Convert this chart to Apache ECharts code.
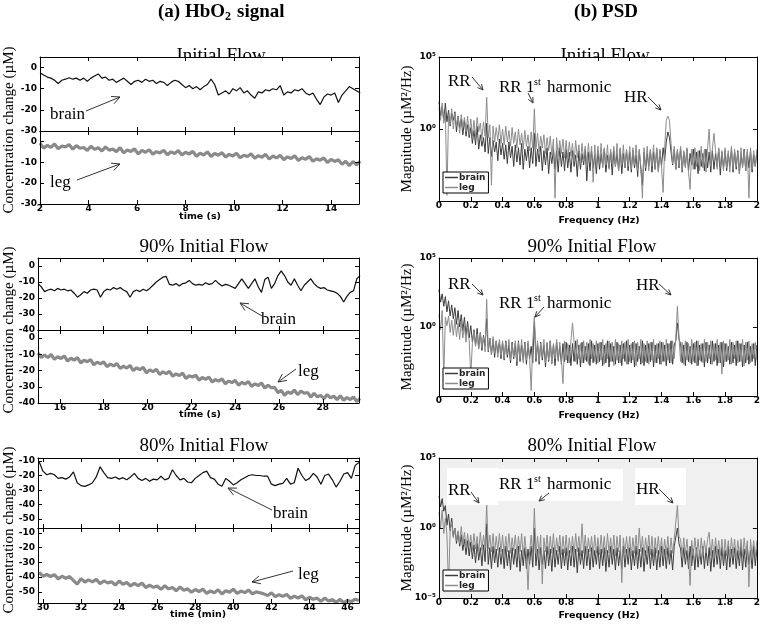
<!DOCTYPE html>
<html><head><meta charset="utf-8">
<script src="https://cdn.jsdelivr.net/npm/echarts@6/dist/echarts.min.js"></script>
<style>html,body{margin:0;padding:0;background:#fff}#c{width:763px;height:624px}</style>
</head><body><div id="c"></div>
<script>
// ---------------- DATA ----------------
// (a) HbO2 signal, time series (value = concentration change, µM)
const brain1T0 = 2.0, brain1Dt = 0.15;
const brain1 = [-2.5,-3.5,-4.5,-5,-6,-7.5,-6,-5.5,-4.8,-5.5,
 -5,-6,-5,-6.5,-5,-4,-3,-5,-4.5,-6,
 -5.5,-7,-6,-5,-6.5,-8,-6.5,-6,-7,-5.5,
 -6.5,-6,-7.5,-6.5,-7,-8.5,-7,-6,-6.5,-8,
 -9.5,-8.5,-10,-9,-10.5,-9,-8,-5.5,-8,-13,
 -12,-11,-12.5,-10,-11,-9.5,-12,-11,-13,-14.5,
 -11.5,-12,-10.5,-11,-10,-10.5,-8.5,-13,-11.5,-12,
 -10.5,-11,-10,-12,-13,-12,-15,-17.5,-14,-12.5,
 -13,-12,-16.5,-13,-11,-9,-10,-11,-12];
const leg1 = [-0.8,-3.2,-1.9,-2.9,-1.2,-3.5,-2.2,-2.6,-1.5,-3.7,
 -2.0,-3.3,-2.9,-4.3,-2.3,-3.8,-3.0,-4.6,-2.6,-4.2,
 -3.6,-4.9,-3.0,-5.4,-4.1,-4.8,-3.6,-6.0,-4.3,-5.2,
 -4.0,-6.1,-4.9,-5.5,-4.2,-6.4,-5.0,-5.8,-4.4,-6.5,
 -5.2,-6.0,-4.8,-7.1,-5.6,-6.5,-5.0,-7.2,-5.8,-6.6,
 -5.4,-7.5,-6.2,-7.0,-5.7,-7.8,-6.6,-7.2,-5.9,-8.1,
 -6.8,-7.6,-6.2,-8.5,-7.0,-7.9,-6.6,-8.8,-7.4,-8.2,
 -6.9,-9.1,-7.8,-8.6,-7.2,-9.5,-8.3,-9.0,-7.9,-10.1,
 -8.6,-9.6,-8.8,-11.0,-9.5,-11.6,-9.6,-11.2,-9.4];

const brain2T0 = 15.0, brain2Dt = 0.15;
const brain2 = [-11,-13,-16,-15,-14.5,-15.5,-14,-15,-14.5,-15.5,
 -15,-17,-19.5,-18,-16,-17,-15,-14.5,-15,-19.5,
 -16,-14.5,-15,-13.5,-14.5,-13.5,-15,-16,-19.5,-16,
 -15,-16,-14.5,-15.5,-14,-12,-10,-8.5,-7,-6.5,
 -11.5,-12,-11,-12.5,-11,-10.5,-9,-11,-12,-11.5,
 -12,-10.5,-11.5,-11,-9,-11,-12.5,-11.5,-12,-13,
 -14,-11,-8,-11,-14,-11,-8,-13,-16.5,-8.5,
 -7,-14,-11,-6,-3,-6,-10,-12,-8,-12,
 -15.5,-12,-10,-8,-11,-13,-14,-13.5,-15,-15.5,
 -16,-17,-19,-22.5,-19,-16.5,-15.5,-8,-6];
const leg2 = [-9.2,-11.9,-10.4,-12.0,-10.1,-13.1,-11.5,-12.6,-11.0,-14.2,
 -12.3,-13.6,-12.0,-15.3,-13.6,-14.6,-13.2,-16.5,-14.8,-15.9,
 -14.6,-17.6,-16.0,-17.1,-15.7,-18.7,-17.3,-18.5,-16.8,-20.0,
 -18.3,-19.5,-18.0,-21.4,-19.6,-20.7,-19.2,-22.4,-20.8,-21.9,
 -20.5,-23.5,-22.0,-23.1,-21.6,-24.9,-23.2,-24.0,-22.9,-25.9,
 -24.3,-25.4,-24.0,-27.1,-25.6,-26.5,-25.1,-28.2,-26.5,-27.4,
 -26.1,-29.0,-27.3,-28.3,-26.8,-29.8,-28.2,-29.2,-27.6,-30.8,
 -29.1,-30.6,-30.4,-33.6,-32.2,-35.3,-33.2,-34.1,-32.0,-34.8,
 -32.6,-34.0,-33.5,-36.4,-34.0,-36.2,-35.3,-37.3,-34.8,-36.8,
 -35.8,-37.9,-35.5,-38.3,-36.6,-37.9,-36.3,-39.1,-37.2];

const brain3T0 = 29.8, brain3Dt = 0.2;
const brain3 = [-10.5,-17,-19.5,-18.5,-19.5,-22,-21.5,-22.5,-21,-17.5,
 -25,-27,-27.5,-26.5,-25,-21,-14,-18,-21.5,-22,
 -21,-22.5,-21.5,-23,-21,-18.5,-22,-23.5,-22,-24,
 -22.5,-23,-20.5,-23,-22,-16,-20,-23,-22,-24.5,
 -25,-22,-20,-18,-17,-21.5,-22.5,-26,-27.5,-22,
 -24,-26.5,-25,-23,-21.5,-20,-19.5,-20,-20,-20.5,
 -20.5,-26,-27,-26,-25.5,-22,-26,-25,-15,-20,
 -23.5,-22,-18.5,-21,-26,-20,-19,-23,-28,-24,
 -19,-18,-22,-13,-11];
const leg3 = [-36.8,-39.4,-38.2,-39.6,-38.3,-41.2,-39.4,-40.9,-39.6,-42.3,
 -44.8,-41.0,-43.3,-41.9,-43.2,-41.5,-44.4,-42.6,-43.9,-43.1,
 -45.4,-42.7,-44.8,-43.7,-46.0,-44.3,-45.8,-44.0,-47.1,-45.4,
 -46.9,-46.1,-48.3,-45.9,-48.0,-47.0,-49.3,-46.7,-48.9,-48.0,
 -50.3,-48.4,-49.8,-48.2,-51.1,-49.4,-50.6,-48.6,-51.5,-49.3,
 -50.2,-48.2,-51.1,-49.5,-50.5,-48.8,-51.4,-50.0,-50.6,-51.4,
 -52.5,-50.7,-53.3,-51.9,-53.1,-51.7,-54.5,-52.9,-54.2,-52.7,
 -55.5,-53.7,-55.1,-54.3,-56.5,-54.2,-56.2,-55.3,-57.2,-55.1,
 -57.4,-55.9,-56.6,-55.0,-55.9];

// tick labels
const xTicks1 = [2,4,6,8,10,12,14];
const xTicks2 = [16,18,20,22,24,26,28];
const xTicks3 = [30,32,34,36,38,40,42,44,46];
const xLabels3 = ['30','32','24','26','28','40','42','44','46'];
const yTicks1 = [-30,-20,-10,0];
const yTicks2 = [-40,-30,-20,-10,0];
const yTicks3 = [-50,-40,-30,-20,-10];
const fTicks = [0,0.2,0.4,0.6,0.8,1,1.2,1.4,1.6,1.8,2];
const psdExpTicks = [-5,0,5];
const psdExpLabels = {'5':'10\u2075','0':'10\u2070','-5':'10\u207B\u2075'};

// (b) PSD, log10 of magnitude (µM²/Hz), frequency bins every 0.01 Hz from 0 to 2 Hz
const FSTEP = 0.01;
const psdBrain1 = [1.9,0.9,1.6,0.6,1.8,0.5,1.3,0.2,1.1,0.6, 1.2,-0.2,0.9,0.1,0.7,-0.4,0.6,-0.5,0.3,-0.6,
 0.1,-1.0,-0.1,-1.1,0.2,-1.4,-0.4,-1.2,-0.6,-1.6, 0.4,-1.7,-0.6,-1.9,-0.8,-1.6,-0.9,-2.2,-0.7,-1.8,
 -1.0,-2.1,-1.1,-2.4,-0.9,-2.0,-1.2,-2.6,-1.1,-2.3, -1.3,-2.5,-1.0,-2.8,-1.4,-2.2,-1.2,-2.7,-1.3,-2.4,
 -0.3,-2.6,-1.4,-2.3,-1.2,-2.9,-1.5,-2.5,-1.3,-3.1, -1.6,-2.4,-1.4,-2.8,-1.5,-3.0,-1.3,-2.6,-1.6,-2.9,
 -1.4,-2.7,-1.6,-3.0,-1.5,-2.6,-1.8,-3.3,-1.5,-2.8, -1.7,-2.5,-1.4,-3.6,-1.6,-2.9,-1.5,-2.7,-1.8,-3.1,
 -1.5,-2.8,-1.7,-2.6,-1.4,-3.0,-1.8,-2.7,-1.6,-3.2, -1.5,-2.6,-1.7,-2.9,-1.4,-3.1,-1.7,-2.7,-1.5,-2.9,
 -1.6,-3.0,-1.5,-2.7,-1.8,-3.3,-1.5,-2.8,-3.9,-1.6, -2.9,-1.7,-2.6,-1.5,-3.0,-1.6,-2.8,-1.4,-2.9,-1.5,
 -2.6,-1.3,-2.2,-0.9,-0.2,-0.6,-1.6,-2.5,-1.4,-2.8, -1.5,-2.7,-1.3,-3.0,-1.6,-2.6,-1.4,-2.9,-1.7,-2.5,
 -1.4,-2.8,-1.6,-3.1,-1.5,-2.6,-1.7,-2.9,-1.4,-2.7, -1.6,-3.0,-1.5,-2.8,-1.7,-2.6,-1.4,-3.2,-1.6,-2.7,
 -1.5,-2.9,-1.7,-2.6,-1.4,-3.0,-1.6,-2.8,-1.5,-3.1, -1.7,-2.6,-1.4,-2.9,-1.6,-2.7,-1.5,-3.0,-1.8,-2.6,
 -1.6];
const psdLeg1 = [1.5,0.6,1.8,0.4,1.2,-4.6,1.0,0.3,1.4,0.0, 1.1,0.2,0.9,-0.3,1.0,0.1,0.8,-0.2,0.9,-0.4,
 0.7,-0.5,0.6,-0.6,0.8,-0.2,0.4,-0.7,0.5,-0.5, 2.2,-0.6,0.3,-3.9,0.2,-0.9,0.1,-0.8,0.3,-1.0,
 0.0,-1.1,0.2,-0.9,-0.1,-1.2,0.1,-1.0,-0.2,-1.3, 0.0,-1.1,-0.3,-1.4,-0.1,-1.2,-0.4,-1.5,-0.2,-1.3,
 1.4,-1.4,-0.3,-1.6,-0.5,-1.3,-0.4,-1.7,-0.6,-1.5, -0.5,-1.8,-0.7,-4.8,-0.6,-1.9,-0.8,-1.7,-0.7,-2.0,
 -0.8,-2.1,-0.9,-1.9,-1.0,-2.3,-0.8,-2.0,-1.1,-2.4, -1.0,-2.2,-1.2,-2.5,-1.0,-2.3,-1.2,-3.7,-1.1,-2.6,
 -1.2,-2.4,-1.0,-2.7,-1.3,-2.5,-1.1,-2.8,-1.4,-2.4, -1.2,-2.6,-1.0,-2.9,-1.3,-2.5,-1.1,-2.7,-1.4,-2.6,
 -1.2,-2.8,-1.3,-2.5,-1.1,-2.9,-1.4,-2.6,-4.8,-1.3, -2.7,-1.2,-2.9,-1.4,-2.6,-1.1,-2.8,-1.3,-3.0,-1.4,
 -2.6,-4.4,-1.3,0.6,0.9,0.6,-1.0,-2.4,-1.2,-2.8, -1.4,-2.6,-1.2,-2.9,-1.5,-2.7,-1.3,-3.0,-4.2,-1.4,
 -2.8,-1.3,-2.6,-1.5,-2.9,-1.2,-2.7,-1.4,-3.0,-1.3, 0.0,-2.6,-1.4,-0.3,-1.5,-2.8,-1.3,-2.6,-1.5,-2.9,
 -1.3,-2.7,-1.5,-3.0,-1.2,-2.8,-1.4,-2.6,-1.6,-3.1, -1.3,-2.7,-1.5,-2.9,-1.4,-4.8,-1.3,-2.8,-1.5,-2.6,
 -1.4];
const psdBrain2 = [2.7,1.8,2.4,1.5,2.2,1.1,1.9,0.8,1.6,0.6, 1.4,0.2,1.2,0.0,0.9,-0.3,0.7,-0.6,0.4,-0.8,
 0.1,-1.1,-0.2,-1.3,-0.1,-1.5,-0.4,-1.7,-0.6,-1.4, 0.6,-1.8,-0.8,-2.0,-0.9,-2.2,-1.0,-1.9,-1.1,-2.3,
 -1.1,-2.4,-1.0,-2.2,-1.3,-2.6,-1.1,-2.3,-1.2,-2.8, -1.0,-2.5,-1.3,-2.4,-1.1,-2.7,-1.2,-2.3,-1.4,-2.6,
 0.4,-2.5,-1.2,-2.7,-1.1,-2.4,-1.3,-2.9,-1.2,-2.5, -1.0,-2.6,-1.3,-2.8,-1.1,-2.4,-1.4,-2.7,-1.2,-2.5,
 -1.1,-2.6,-1.3,-2.8,-1.2,-2.5,-1.0,-2.7,-1.3,-2.9, -1.1,-2.6,-1.4,-2.5,-1.2,-2.8,-1.0,-2.6,-1.3,-2.7,
 -1.2,-2.5,-1.1,-2.8,-1.3,-2.6,-1.0,-2.9,-1.2,-2.5, -1.4,-2.7,-1.1,-2.6,-1.3,-2.8,-1.2,-2.5,-1.0,-2.7,
 -1.3,-2.6,-1.1,-2.9,-1.2,-2.5,-1.4,-2.7,-1.0,-2.8, -1.3,-2.6,-1.2,-2.5,-1.1,-2.9,-1.3,-2.6,-1.2,-2.7,
 -1.1,-2.5,-1.3,-2.8,-1.2,-2.6,-1.0,-2.7,-1.3,-1.0, 0.3,-0.9,-1.2,-2.6,-1.3,-2.8,-1.1,-2.5,-1.4,-2.7,
 -1.2,-2.6,-1.0,-2.8,-1.3,-2.5,-1.2,-2.9,-1.1,-2.6, -1.3,-2.7,-1.0,-2.5,-1.2,-2.8,-1.3,-2.6,-1.1,-2.9,
 -1.2,-2.5,-1.4,-2.7,-1.1,-2.6,-1.3,-2.8,-1.0,-2.5, -1.2,-2.9,-1.3,-2.6,-1.1,-2.7,-1.4,-2.5,-1.2,-2.8,
 -1.3];
const psdLeg2 = [0.9,-0.2,1.2,-3.7,0.7,0.1,0.8,-0.4,0.5,-0.6, 0.6,-0.7,0.3,-0.9,0.4,-0.8,0.1,-1.1,0.0,-1.0,
 -3.5,-1.2,-0.3,-1.4,-0.5,-1.6,-0.4,-1.5,-0.7,-1.8, 2.0,-1.7,-0.8,-2.0,-0.7,-1.9,-1.0,-2.2,-0.9,-2.1,
 -1.0,-2.3,-1.1,-2.0,-0.9,-2.4,-1.2,-2.2,-1.0,-2.5, -1.1,-2.3,-0.9,-2.6,-1.2,-2.4,-1.0,-2.2,-4.6,-1.1,
 0.8,-2.3,-1.0,-2.5,-1.2,-2.2,-0.9,-2.6,-1.1,-2.4, -1.0,-2.7,-1.2,-2.3,-0.9,-2.5,-1.1,-2.4,-4.1,-1.0,
 -2.4,-1.2,-2.6,-1.0,0.3,-1.1,-2.5,-0.9,-2.3,-1.2, -2.6,-1.0,-2.4,-1.1,-2.7,-0.9,-2.3,-1.2,-2.5,-1.0,
 -2.6,-1.1,-2.4,-0.9,-2.7,-1.2,-2.3,-1.0,-2.5,-1.1, -2.8,-0.9,-2.4,-1.2,-2.6,-1.0,-2.3,-1.1,-2.7,-0.9,
 -2.5,-1.2,-2.4,-1.0,-2.8,-1.1,-2.3,-0.9,-2.6,-1.2, -2.5,-1.0,-2.7,-1.1,-2.4,-0.9,-2.6,-1.2,-2.3,-1.0,
 -2.7,-1.1,-2.5,-0.9,-2.4,-1.2,-2.6,-1.0,-2.3,-0.8, 1.5,-0.7,-2.5,-1.1,-2.7,-1.0,-2.4,-1.2,-2.6,-0.9,
 -2.5,-1.1,-2.8,-1.0,-2.4,-1.2,-2.6,-0.9,-2.5,-1.1, -2.3,-1.0,-2.7,-1.2,-2.4,-0.9,-2.6,-1.1,-3.4,-1.0,
 -2.5,-1.2,-2.4,-0.9,-2.7,-1.1,-2.3,-1.0,-2.6,-1.2, -2.5,-0.9,-2.8,-1.1,-2.4,-1.0,-2.6,-1.2,-2.3,-1.1,
 -2.4];
const psdBrain3 = [2.3,1.5,2.1,1.2,1.6,0.2,1.0,-0.2,0.7,-0.6, 0.0,-1.1,-0.3,-1.3,-0.5,-1.6,-0.8,-1.9,-0.9,-2.0,
 -1.0,-2.2,-1.2,-2.5,-1.1,-2.3,-1.4,-2.7,-1.2,-2.4, 0.3,-2.6,-1.4,-2.9,-1.3,-2.5,-1.5,-2.8,-1.4,-2.6,
 -1.5,-2.9,-1.3,-2.7,-1.6,-3.0,-1.4,-2.6,-1.5,-2.8, -1.3,-3.1,-1.6,-2.7,-1.4,-2.9,-1.5,-2.6,-1.3,-2.8,
 0.0,-2.7,-1.5,-3.0,-1.4,-2.6,-1.6,-2.9,-1.3,-2.7, -1.5,-3.1,-1.4,-2.8,-1.6,-2.6,-1.3,-2.9,-1.5,-2.7,
 -1.4,-3.0,-1.6,-2.7,-1.3,-2.8,-1.5,-3.2,-1.4,-2.6, -1.6,-2.9,-1.3,-2.7,-1.5,-3.0,-1.4,-2.8,-1.6,-2.6,
 -1.3,-2.9,-1.5,-2.7,-1.4,-3.1,-1.6,-2.8,-1.3,-2.6, -1.5,-3.0,-1.4,-2.7,-1.6,-2.9,-1.3,-2.8,-1.5,-2.6,
 -1.4,-3.0,-1.6,-2.7,-1.3,-2.9,-1.5,-2.8,-1.4,-3.1, -1.6,-2.6,-1.3,-2.9,-1.5,-2.7,-1.4,-3.0,-1.6,-2.8,
 -1.3,-2.7,-1.5,-2.9,-1.4,-2.6,-1.6,-3.0,-1.3,-1.2, 0.0,-1.1,-1.5,-2.8,-1.4,-2.6,-1.6,-2.9,-1.3,-2.7,
 -1.5,-3.0,-1.4,-2.8,-1.6,-2.6,-1.3,-2.9,-1.5,-2.7, -1.4,-3.1,-1.6,-2.8,-1.3,-2.6,-1.5,-2.9,-1.4,-2.7,
 -1.6,-3.0,-1.3,-2.8,-1.5,-2.6,-1.4,-2.9,-1.6,-2.7, -1.3,-3.0,-1.5,-2.8,-1.4,-2.6,-1.6,-2.9,-1.3,-2.7,
 -1.5];
const psdLeg3 = [1.1,0.0,1.3,-0.4,0.7,-0.5,-4.3,-0.2,0.4,-0.7, 0.0,-0.9,-0.2,-1.1,0.1,-1.2,-0.3,-1.4,-0.4,-1.3,
 -0.5,-1.6,-0.4,-1.5,-0.6,-1.7,-0.3,-1.6,-0.5,-1.4, 1.7,-1.5,-0.5,-1.7,-0.4,-1.8,-0.6,-1.6,-0.4,-1.7,
 -0.5,-1.9,-0.6,-1.7,-0.4,-1.8,-0.7,-1.6,-0.5,-1.9, -0.6,-1.7,-0.4,-2.0,-0.6,-1.8,-4.4,-1.7,-0.5,-1.9,
 1.4,-1.8,-0.6,-1.9,-0.5,-4.0,-0.7,-1.7,-0.5,-1.9, -0.6,-1.8,-0.4,-2.0,-0.7,-1.7,-0.5,-1.9,-0.6,-1.8,
 -0.5,-2.0,-0.7,-1.8,-0.6,-1.9,-0.4,-1.7,-0.6,-2.0, 0.3,-1.8,-0.5,-1.9,-0.7,-1.7,-0.6,-2.0,-0.5,-1.8,
 -0.7,-1.9,-0.5,-1.8,-0.6,-2.1,-0.4,-1.8,-0.7,-1.9, -0.5,-2.0,-0.6,-1.7,-0.5,-3.9,-0.7,-1.8,-0.6,-1.9,
 -0.6,-2.0,-0.7,-1.8,-0.5,-1.9,0.0,-1.7,-0.6,-2.0, -0.7,-1.8,-0.5,-1.9,-0.6,-2.1,-0.7,-1.8,-0.6,-1.9,
 -0.7,-2.0,-0.8,-1.9,-0.6,-2.1,-0.7,-1.8,-0.8,-0.7, 1.6,-0.6,-0.8,-2.0,-0.7,-1.9,-0.8,-2.1,-4.1,-0.9,
 -2.0,-0.7,-1.9,-0.8,-2.1,-0.7,-2.0,-0.9,-1.8,-0.8, -0.3,-2.0,-0.8,-2.1,-0.7,-1.9,-0.9,-2.0,-0.8,-2.2,
 -0.8,-2.0,-0.9,-2.1,-0.7,-1.9,-0.8,-2.2,-0.9,-2.0, -0.8,-2.1,-0.7,-1.9,-0.9,-4.2,-0.8,-2.0,-0.9,-2.1,
 -0.9];

// ---------------- CHART ----------------
const SANS = 'DejaVu Sans', SERIF = 'Liberation Serif';
const option = {animation:false, backgroundColor:'#fff', grid:[], xAxis:[], yAxis:[], series:[], legend:[], title:[], graphic:{elements:[]}};
const G = option.graphic.elements;

function panel(rect, x, y, bg) {
  const gi = option.grid.length;
  option.grid.push({left:rect[0], top:rect[1], width:rect[2], height:rect[3], show:true,
    backgroundColor:bg || '#fff', borderWidth:0, z:1});
  const tick = {show:true, inside:true, length:4, lineStyle:{color:'#000', width:1}};
  const line = {show:true, onZero:false, lineStyle:{color:'#000', width:1}};
  const lbl = {color:'#000', fontFamily:SANS, fontWeight:'bold', fontSize:9, hideOverlap:false};
  const base = {type:'value', splitLine:{show:false}, z:3, axisLine:line};
  // x ticks: either a fixed interval starting at min, or explicit tick values
  const xTick = x.interval ? {} : {customValues:x.ticks};
  option.xAxis.push(Object.assign({}, base, {gridIndex:gi, position:'bottom', min:x.min, max:x.max, interval:x.interval,
    axisTick:Object.assign({}, tick, xTick),
    axisLabel:Object.assign({}, lbl, xTick, {show:!!x.show, margin:0, showMinLabel:true, showMaxLabel:!x.interval,
      formatter:x.fmt || (v => String(v))})}));
  option.xAxis.push(Object.assign({}, base, {gridIndex:gi, position:'top', min:x.min, max:x.max, interval:x.interval,
    axisTick:Object.assign({}, tick, xTick), axisLabel:{show:false}}));
  option.yAxis.push(Object.assign({}, base, {gridIndex:gi, position:'left', min:y.min, max:y.max,
    axisTick:Object.assign({}, tick, {customValues:y.ticks}),
    axisLabel:Object.assign({}, lbl, {customValues:y.labels || y.ticks, margin:3, formatter:y.fmt || (v => String(v))})}));
  option.yAxis.push(Object.assign({}, base, {gridIndex:gi, position:'right', min:y.min, max:y.max,
    axisTick:Object.assign({}, tick, {customValues:y.ticks}), axisLabel:{show:false}}));
  return gi * 2;
}
function addLine(name, ax, data, color, width) {
  option.series.push({name, type:'line', xAxisIndex:ax, yAxisIndex:ax, data, symbol:'none', showSymbol:false,
    lineStyle:{color, width}, itemStyle:{color}, clip:true, silent:true, z:2});
}
const seq = (vals, t0, dt) => vals.map((v, i) => [+(t0 + i * dt).toFixed(4), v]);
const psd = vals => vals.map((v, i) => [+(i * FSTEP).toFixed(3), v]);

const BRAIN = '#111', LEG = '#8a8a8a';
// Left column
const x1 = {min:xTicks1[0], max:15.15, interval:xTicks1[1] - xTicks1[0]};
const x2 = {min:15, max:29.65, ticks:xTicks2};
const x3 = {min:29.74, max:46.6, ticks:xTicks3, fmt: v => xLabels3[xTicks3.indexOf(v)]};
let a;
a = panel([40,57,319,74], x1, {min:-30, max:5, ticks:yTicks1});
addLine('HbO2 brain', a, seq(brain1, brain1T0, brain1Dt), BRAIN, 1.2);
a = panel([40,131,319,73], Object.assign({show:true}, x1), {min:-30, max:5, ticks:yTicks1});
addLine('HbO2 leg', a, seq(leg1, brain1T0, brain1Dt), LEG, 3.2);
a = panel([38,258,321,72], x2, {min:-40, max:5, ticks:yTicks2});
addLine('HbO2 brain', a, seq(brain2, brain2T0, brain2Dt), BRAIN, 1.2);
a = panel([38,330,321,73], Object.assign({show:true}, x2), {min:-40, max:5, ticks:yTicks2});
addLine('HbO2 leg', a, seq(leg2, brain2T0, brain2Dt), LEG, 3.2);
a = panel([38,458,321,70], x3, {min:-56.3, max:-7.9, ticks:yTicks3});
addLine('HbO2 brain', a, seq(brain3, brain3T0, brain3Dt), BRAIN, 1.2);
a = panel([38,528,321,75], Object.assign({show:true}, x3), {min:-57.6, max:-6.6, ticks:yTicks3});
addLine('HbO2 leg', a, seq(leg3, brain3T0, brain3Dt), LEG, 3.2);

// Right column (PSD)
const fx = {min:0, max:2, ticks:fTicks, show:true};
const fmtE = v => psdExpLabels[String(v)];
const PB = '#3c3c3c', PL = '#8c8c8c';
const psdSets = [[psdBrain1, psdLeg1, [439,57,320,144], [0,5], '#fff', 172],
                 [psdBrain2, psdLeg2, [439,258,320,138], [0,5], '#fff', 368],
                 [psdBrain3, psdLeg3, [439,458,320,140], [-5,0,5], '#f0f0f0', 570]];
psdSets.forEach(s => {
  const ax = panel(s[2], fx, {min:-5, max:5, ticks:psdExpTicks, labels:s[3], fmt:fmtE}, s[4]);
  addLine('brain', ax, psd(s[0]), PB, 1);
  addLine('leg', ax, psd(s[1]), PL, 1);
  option.legend.push({data:['brain','leg'], left:443, top:s[5], orient:'vertical', itemGap:1,
    icon:'rect', itemWidth:13, itemHeight:1.5, padding:[1,3,1,2], borderColor:'#000', borderWidth:1,
    backgroundColor:'#fff', selectedMode:false, z:6,
    textStyle:{fontFamily:SANS, fontSize:9, fontWeight:'bold', color:'#222', padding:[0,0,0,-4]}});
});

// ---------------- TEXT & ANNOTATIONS ----------------
function txt(s, x, y, size, o) {
  o = o || {};
  G.push({type:'text', x, y, z:(o.z == null ? 10 : o.z), rotation:o.rot || 0, silent:true,
    style:{text:s, fontSize:size, fontFamily:o.family || SERIF, fontWeight:o.bold ? 'bold' : 'normal',
      fill:o.color || '#000', align:o.align || 'left', verticalAlign:'middle'}});
}
function arrow(x1, y1, x2, y2, head) {
  const ang = Math.atan2(y2 - y1, x2 - x1);
  const h = head || 8, sp = 0.45;
  const p1 = [x2 - h * Math.cos(ang - sp), y2 - h * Math.sin(ang - sp)];
  const p2 = [x2 - h * Math.cos(ang + sp), y2 - h * Math.sin(ang + sp)];
  G.push({type:'line', z:10, silent:true, shape:{x1, y1, x2, y2}, style:{stroke:'#333', lineWidth:1}});
  G.push({type:'polyline', z:10, silent:true, shape:{points:[p1, [x2, y2], p2]}, style:{stroke:'#333', fill:null, lineWidth:1}});
}
// panel titles as title components drawn beneath the plot backgrounds (first row is clipped as in the original)
function ttl(s, cx, cy) {
  option.title.push({text:s, left:cx, top:cy - 11, textAlign:'center', padding:0, z:0, zlevel:0,
    textStyle:{fontFamily:SERIF, fontSize:19, fontWeight:'normal', color:'#000', lineHeight:22}});
}
ttl('Initial Flow', 221, 56);
ttl('90% Initial Flow', 204, 247);
ttl('80% Initial Flow', 204, 446);
ttl('Initial Flow', 605, 56);
ttl('90% Initial Flow', 592, 247);
ttl('80% Initial Flow', 592, 446);

// headers
txt('(a) HbO', 158, 12, 19, {bold:true});
txt('2', 225, 17, 12, {bold:true});
txt('signal', 237, 12, 19, {bold:true});
txt('(b) PSD', 606, 12, 19, {bold:true, align:'center'});
// axis titles
[130, 330, 530].forEach(y => txt('Concentration change (\u00B5M)', 9, y, 15, {align:'center', rot:Math.PI / 2}));
[129, 327, 528].forEach(y => txt('Magnitude (\u00B5M\u00B2/Hz)', 407, y, 15, {align:'center', rot:Math.PI / 2}));
txt('time (s)', 200, 217, 9.5, {family:SANS, bold:true, align:'center', z:2});
txt('time (s)', 200, 415, 9.5, {family:SANS, bold:true, align:'center', z:2});
txt('time (min)', 198, 615, 9.5, {family:SANS, bold:true, align:'center', z:2});
[221, 416, 616].forEach(y => txt('Frequency (Hz)', 599, y, 9.5, {family:SANS, bold:true, align:'center', z:2}));

// left annotations
txt('brain', 50, 115, 17); arrow(86, 111, 120, 97, 9);
txt('leg', 50, 183, 17); arrow(77, 180, 120, 164, 9);
txt('brain', 261, 320, 17); arrow(262, 316, 240, 303, 9);
txt('leg', 298, 372, 17); arrow(296, 369, 278, 382, 9);
txt('brain', 273, 514, 17); arrow(272, 510, 228, 488, 9);
txt('leg', 298, 575, 17); arrow(293, 571, 252, 582, 9);

// right annotations
G.push({type:'rect', z:9, silent:true, shape:{x:447, y:468, width:51, height:37}, style:{fill:'#fff'}});
G.push({type:'rect', z:9, silent:true, shape:{x:497, y:469, width:126, height:32}, style:{fill:'#fff'}});
G.push({type:'rect', z:9, silent:true, shape:{x:635, y:468, width:51, height:37}, style:{fill:'#fff'}});
function psdNotes(yRR, yH, yHR, xHR, arrs) {
  txt('RR', 448, yRR, 17);
  txt('RR 1', 499, yH, 17);
  txt('st', 534, yH - 6, 10);
  txt('harmonic', 547, yH, 17);
  txt('HR', xHR, yHR, 17);
  arrs.forEach(r => arrow(r[0], r[1], r[2], r[3], 6));
}
psdNotes(82, 88, 98, 624, [[472,77,483,90],[528,93,533,103],[648,97,661,110]]);
psdNotes(285, 304, 286, 636, [[472,284,483,295],[544,307,535,317],[659,284,671,295]]);
psdNotes(491, 485, 490, 636, [[471,492,479,503],[549,493,539,501],[659,489,673,503]]);

const chart = echarts.init(document.getElementById('c'), null, {renderer:'canvas', width:763, height:624});
chart.setOption(option);
</script>
</body></html>
